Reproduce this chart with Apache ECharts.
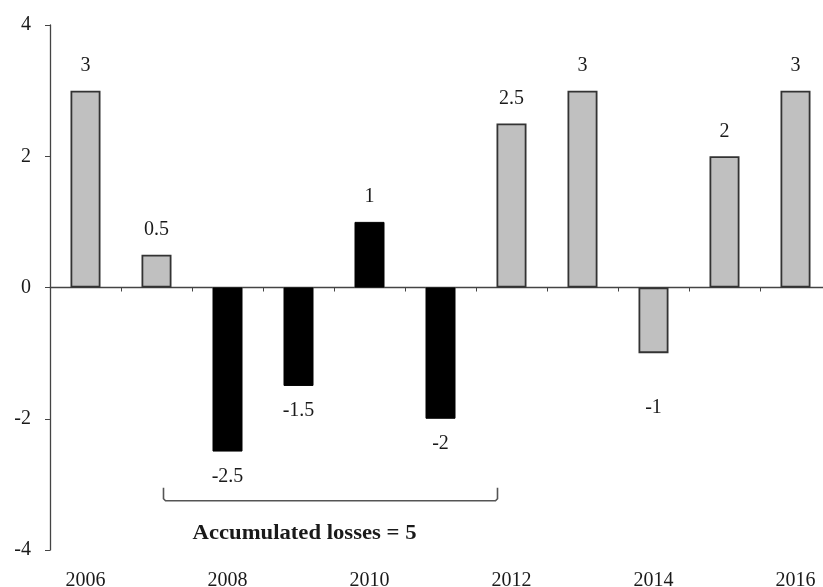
<!DOCTYPE html>
<html><head><meta charset="utf-8">
<script src="https://cdn.jsdelivr.net/npm/echarts@6/dist/echarts.min.js"></script>
<style>html,body{margin:0;padding:0;background:#fff}#c{width:823px;height:587px}</style>
</head><body><div id="c"></div>
<script>
const years = ['2006','2007','2008','2009','2010','2011','2012','2013','2014','2015','2016'];
const values = [3, 0.5, -2.5, -1.5, 1, -2, 2.5, 3, -1, 2, 3];
const crisisYears = ['2008','2009','2010','2011'];
const yTicks = {min: -4, max: 4, interval: 2};
const annotationText = 'Accumulated losses = 5';
const bracketStart = '2007', bracketEnd = '2012', bracketLevel = -3.25;

const font = 'Liberation Serif';
const data = values.map((v, i) => {
  const black = crisisYears.includes(years[i]);
  const item = {
    value: v,
    itemStyle: black ? {color: '#000', borderColor: '#000', borderWidth: 1}
                     : {color: '#c0c0c0', borderColor: '#333', borderWidth: 1.8},
    label: {position: v >= 0 ? 'top' : 'bottom', distance: 15}
  };
  if (years[i] === '2014') item.label.distance = 45;
  return item;
});

const chart = echarts.init(document.getElementById('c'));
chart.setOption({
  animation: false,
  backgroundColor: '#fff',
  grid: {left: 50, top: 25, width: 781, bottom: 37, containLabel: false, outerBoundsMode: 'none'},
  xAxis: [{
    type: 'category', data: years, position: 'bottom',
    axisLine: {onZero: true, lineStyle: {color: '#444', width: 1.3}},
    axisTick: {show: true, alignWithLabel: false, interval: 0, length: 4, lineStyle: {color: '#444'}},
    axisLabel: {show: false}, splitLine: {show: false}
  }, {
    type: 'category', data: years, position: 'bottom',
    axisLine: {show: false, onZero: false}, axisTick: {show: false},
    axisLabel: {show: true, interval: 1, margin: 21, fontFamily: font, fontSize: 20, color: '#1a1a1a'}
  }],
  yAxis: {
    type: 'value', min: yTicks.min, max: yTicks.max, interval: yTicks.interval,
    axisLine: {show: true, lineStyle: {color: '#444', width: 1.3}},
    axisTick: {show: true, length: 5, lineStyle: {color: '#444'}},
    axisLabel: {margin: 19, fontFamily: font, fontSize: 20, color: '#1a1a1a'},
    splitLine: {show: false}
  },
  series: [{
    type: 'bar', xAxisIndex: 0, data: data, barWidth: 30,
    label: {show: true, fontFamily: font, fontSize: 20, color: '#1a1a1a'}
  }]
});

const pStart = chart.convertToPixel({xAxisIndex: 0, yAxisIndex: 0}, [bracketStart, bracketLevel]);
const pEnd = chart.convertToPixel({xAxisIndex: 0, yAxisIndex: 0}, [bracketEnd, bracketLevel]);
const x1 = pStart[0] + 7, x2 = pEnd[0] - 14, y = pStart[1];
chart.setOption({
  graphic: [{
    type: 'polyline',
    shape: {points: [[x1, y - 13], [x1, y - 2], [x1 + 2, y], [x2 - 2, y], [x2, y - 2], [x2, y - 13]]},
    style: {stroke: '#555', lineWidth: 1.6, fill: null}
  }, {
    type: 'text', x: (x1 + x2) / 2 - 26, y: y + 33, scaleX: 1.08,
    style: {text: annotationText, font: 'bold 21px "Liberation Serif"', fill: '#1a1a1a', textAlign: 'center', textVerticalAlign: 'middle'}
  }]
});
</script></body></html>
